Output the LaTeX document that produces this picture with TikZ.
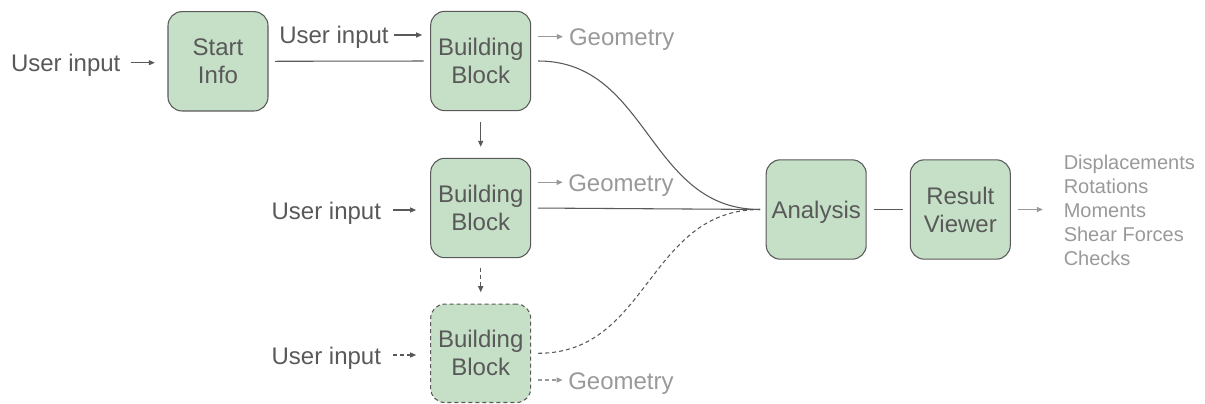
\documentclass[tikz,border=0pt]{standalone}
\usepackage{fontspec}
\setmainfont{Liberation Sans}
\usetikzlibrary{arrows.meta}
\definecolor{boxfill}{HTML}{C6E0C7}
\definecolor{ink}{HTML}{595959}
\definecolor{soft}{HTML}{999999}

\begin{document}
\begin{tikzpicture}[x=0.75pt,y=-0.75pt,
  block/.style={draw=ink, fill=boxfill, line width=0.8pt, rounded corners=10.5pt,
    minimum width=75pt, minimum height=74.5pt, inner sep=0pt, align=center,
    text=ink, font=\fontsize{18}{21}\selectfont,
    execute at begin node={\rule{0pt}{17pt}}},
  lbl/.style={inner sep=0pt, text height=14pt, text depth=0.5pt,
    font=\fontsize{18}{21}\selectfont, text=ink},
  geo/.style={lbl, text=soft},
  link/.style={draw=ink, line width=0.8pt},
  arr/.style={link, -{Triangle[length=4.5pt,width=3.8pt]}},
  garr/.style={draw=soft, line width=0.8pt, -{Triangle[length=4.5pt,width=3.8pt]}},
  dashline/.style={dash pattern=on 3pt off 2.25pt}
]
\path[use as bounding box] (0,0) rectangle (1205,403);

% blocks
\node[block] (start) at (218,61.3) {Start\\Info};
\node[block] (bb1) at (480.7,61) {Building\\Block};
\node[block] (bb2) at (480.7,208) {Building\\Block};
\node[block, dashline, minimum height=73.8pt] (bb3) at (480.7,353.3) {Building\\Block};
\node[block] (ana) at (816.2,209.5) {Analysis};
\node[block] (rv) at (960.3,209.5) {Result\\Viewer};

% side labels
\node[lbl, anchor=west] (ui0) at (10.8,62.7) {User input};
\node[lbl, anchor=west] (ui1) at (279,35) {User input};
\node[lbl, anchor=west] (ui2) at (271.4,210) {User input};
\node[lbl, anchor=west] (ui3) at (271.4,355) {User input};
\node[geo, anchor=west] (g1) at (568.8,36.7) {Geometry};
\node[geo, anchor=west] (g2) at (568,182.3) {Geometry};
\node[geo, anchor=west] (g3) at (568,380) {Geometry};
\node[anchor=west, inner sep=0pt, align=left, text=soft,
  font=\fontsize{15}{18}\selectfont] (res) at (1063.5,210) {Displacements\\Rotations\\Moments\\Shear Forces\\Checks};

% inputs
\draw[arr, shorten <=7.5pt, shorten >=9.5pt] (ui0.east) -- (ui0.east -| start.west);
\draw[arr, shorten <=3.75pt, shorten >=6pt] (ui1.east) -- (ui1.east -| bb1.west);
\draw[arr, shorten <=9pt, shorten >=10.5pt] (ui2.east) -- (ui2.east -| bb2.west);
\draw[arr, dashline, shorten <=9pt, shorten >=10.5pt] (ui3.east) -- (ui3.east -| bb3.west);

% geometry outputs
\draw[garr, shorten <=5.25pt, shorten >=4.4pt] (g1.west -| bb1.east) -- (g1.west);
\draw[garr, shorten <=5.25pt, shorten >=4pt] (g2.west -| bb2.east) -- (g2.west);
\draw[garr, dashline, shorten <=5.25pt, shorten >=4pt] (g3.west -| bb3.east) -- (g3.west);

% chain of blocks
\draw[link, shorten <=5pt, shorten >=5pt] (start.east) -- (bb1.west);
\draw[arr, shorten <=8pt, shorten >=8.25pt] (bb1.south) -- (bb2.north);
\draw[arr, dashline, shorten <=7pt, shorten >=8.5pt] (bb2.south) -- (bb3.north);

% into the analysis
\draw[link, shorten <=5.25pt, shorten >=4.25pt] (bb1.east) .. controls +(118,0) and +(-118,0) .. (ana.west);
\draw[link, shorten <=5pt, shorten >=4.25pt] (bb2.east) -- (ana.west);
\draw[link, dashline, shorten <=5.25pt, shorten >=4.25pt] (bb3.east) .. controls +(118,0) and +(-118,0) .. (ana.west);

% results
\draw[link, shorten <=5.5pt, shorten >=5pt] (ana.east) -- (rv.west);
\draw[garr, shorten <=5.7pt, shorten >=15.5pt] (rv.east) -- (rv.east -| res.west);
\end{tikzpicture}
\end{document}
